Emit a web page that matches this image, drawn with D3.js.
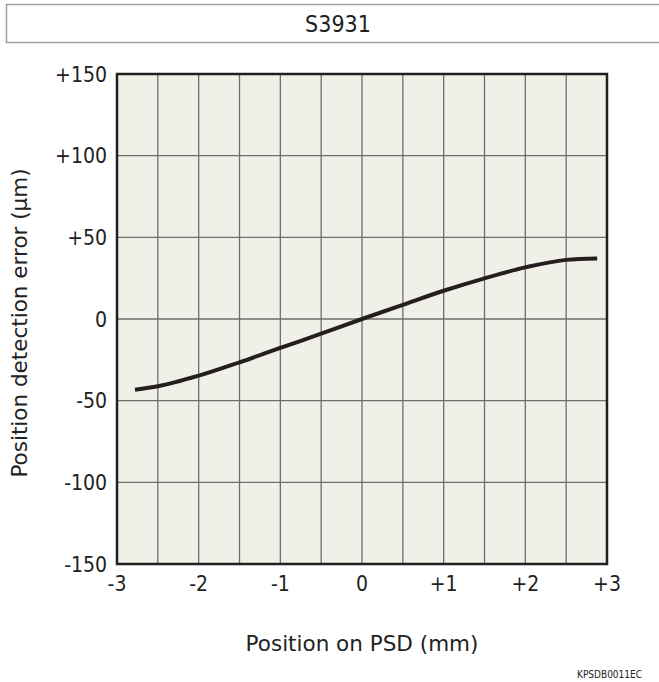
<!DOCTYPE html>
<html><head><meta charset="utf-8">
<script src="https://cdn.jsdelivr.net/npm/d3@7"></script>
<style>body{margin:0;background:#fff}svg{display:block}text{font-family:"DejaVu Sans Condensed","DejaVu Sans",sans-serif;fill:#222}</style>
</head><body><svg id="c" width="659" height="682"></svg>
<script>
const title = "S3931";
const xTicks = [-3,-2,-1,0,1,2,3];
const yTicks = [-150,-100,-50,0,50,100,150];
const posX = [-2.78,-2.5,-2,-1.5,-1,-0.5,0,0.5,1,1.5,2,2.5,2.88];
const errY = [-43.3,-41.2,-34.7,-26.5,-17.7,-9,0,8.7,17.3,24.9,31.6,36.2,37.1];
const fmt = v => v > 0 ? "+" + v : String(v);

const svg = d3.select("#c");
const L=117,R=607,T=74,B=564;
const x = d3.scaleLinear().domain([-3,3]).range([L,R]);
const y = d3.scaleLinear().domain([-150,150]).range([B,T]);

svg.append("rect").attr("x",6.5).attr("y",4.5).attr("width",660).attr("height",38).attr("fill","#fff").attr("stroke","#a0a0a0").attr("stroke-width",1.5);
svg.append("text").attr("x",338).attr("y",32).attr("text-anchor","middle").attr("font-size",23).text(title);

svg.append("rect").attr("x",L).attr("y",T).attr("width",R-L).attr("height",B-T).attr("fill","#f1f0e8");
const g = svg.append("g");
g.selectAll("line.v").data(d3.range(-2.5,3,0.5)).join("line").attr("x1",d=>x(d)).attr("x2",d=>x(d)).attr("y1",T).attr("y2",B).attr("stroke","#6e6e6e").attr("stroke-width",1.3);
g.selectAll("line.h").data(yTicks.slice(1,-1)).join("line").attr("y1",d=>y(d)).attr("y2",d=>y(d)).attr("x1",L).attr("x2",R).attr("stroke","#6e6e6e").attr("stroke-width",1.3);

const line = d3.line().x((d,i)=>x(posX[i])).y(d=>y(d)).curve(d3.curveMonotoneX);
svg.append("path").attr("d",line(errY)).attr("fill","none").attr("stroke","#231f20").attr("stroke-width",4).attr("stroke-linecap","butt");

svg.append("rect").attr("x",L).attr("y",T).attr("width",R-L).attr("height",B-T).attr("fill","none").attr("stroke","#231f20").attr("stroke-width",2.5);

svg.selectAll("text.yt").data(yTicks).join("text").attr("x",107).attr("y",d=>y(d)+7.5).attr("text-anchor","end").attr("font-size",21).text(fmt);
svg.selectAll("text.xt").data(xTicks).join("text").attr("x",d=>x(d)).attr("y",591).attr("text-anchor","middle").attr("font-size",21).text(fmt);

svg.append("text").attr("transform","translate(27,323) rotate(-90)").attr("text-anchor","middle").style("font-family","'DejaVu Sans',sans-serif").attr("font-size",21.5).text("Position detection error (μm)");
svg.append("text").attr("x",362).attr("y",651).attr("text-anchor","middle").style("font-family","'DejaVu Sans',sans-serif").attr("font-size",21.5).text("Position on PSD (mm)");
svg.append("text").attr("x",642).attr("y",678).attr("text-anchor","end").attr("font-size",10).text("KPSDB0011EC");
</script></body></html>
